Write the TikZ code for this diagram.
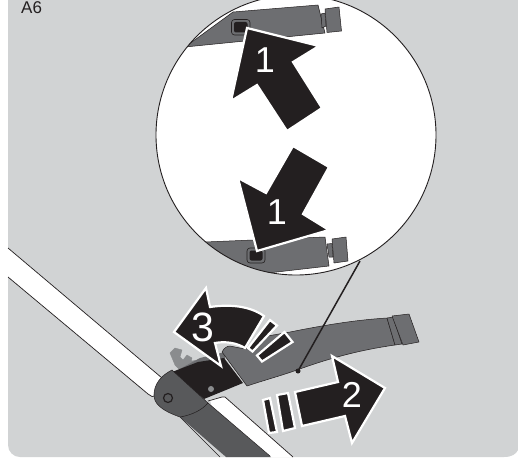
\documentclass[tikz,border=0pt]{standalone}
\usepackage{fontspec}
\setmainfont{Liberation Sans}
\definecolor{bg}{HTML}{D1D3D4}
\definecolor{ink}{HTML}{231F20}
\definecolor{midg}{HTML}{6D6E71}
\definecolor{darkg}{HTML}{58595B}
\definecolor{lightg}{HTML}{8A8C8E}
\tikzset{
 part/.style={fill=midg,draw=ink,line width=0.5pt,line join=round},
 bigarrow/.style={fill=ink,draw=white,line width=2.2pt,miter limit=10},
 num/.style={text=white,font=\fontsize{36}{36}\selectfont,inner sep=0pt},
 numbig/.style={text=white,font=\fontsize{41}{41}\selectfont,inner sep=0pt},
 tube/.style={draw=ink,line width=0.7pt},
 holeouter/.style={fill=midg,draw=ink,line width=0.6pt,rounded corners=3pt},
 holeinner/.style={fill=ink,rounded corners=2pt}
}
\begin{document}
\begin{tikzpicture}[x=1pt,y=-1pt]
\useasboundingbox (0,0) rectangle (518,460);
\fill[white] (0,0) rectangle (518,460);
% background panel
\fill[bg] (8,0) -- (518,0) -- (518,450) .. controls (516,454) and (512,457) .. (504,457) -- (20,457) arc[start angle=90,end angle=180,radius=12] -- cycle;
\node[text=ink,font=\fontsize{17}{17}\selectfont,inner sep=0pt,anchor=base west] (a6) at (21,13.5) {A6};
% frame tube upper
\fill[white] (8,248) -- (162,378) -- (152,397) -- (8,277) -- cycle;
\draw[tube] (8,248) -- (162,378);
\draw[tube] (8,277) -- (148,394) -- (152,396.5) -- (155,396);
% frame tube lower
\fill[white] (210,400) -- (222,397) -- (225,397) -- (293,457) -- (225,457) -- cycle;
\draw[tube] (208,401) -- (222,397) -- (225,397) -- (293,457);
\fill[darkg] (180,417) -- (208,403) -- (271,457) -- (226,457) -- cycle;
\draw[ink,line width=0.5pt] (180,417) -- (220,457);
\draw[ink,line width=0.5pt] (208,403) -- (270,456);
% hook
\path[fill=lightg,draw=lightg,line width=0.4pt,line join=round] (170,353) -- (175,348) -- (182,350) -- (180,357) -- (183,360) -- (187,355) -- (192,358) -- (191,361) -- (200,360) -- (208,360) -- (182,372) -- (175,365) -- cycle;
% black lever
\fill[midg] (176,371) -- (200,358) -- (225,352) -- (225,360) -- (190,375) -- cycle;
\fill[ink] (172,372) -- (198,362) -- (224,358) -- (243,383) -- (204,399) -- cycle;
\fill[lightg] (211,389) circle[radius=3];
% strap
\path[part] (222,352) .. controls (224,348) and (227,346) .. (230,346) -- (240,348) -- (246,349) -- (262,337) -- (290,332) .. controls (325,325) and (355,320) .. (387,318) -- (395,345) .. controls (360,350) and (330,358) .. (297,370) .. controls (280,376) and (265,380) .. (247,386) -- cycle;
\path[part] (387,318) -- (393,317) -- (402,344) -- (395,345) -- cycle;
\path[part] (392,316) -- (409,314) -- (419,342) -- (403,345) -- cycle;
% pivot
\path[fill=darkg,draw=ink,line width=0.5pt] (172,370) .. controls (160,376) and (154,385) .. (154,395) .. controls (154,403) and (160,410) .. (180,417) .. controls (192,415) and (202,410) .. (208,403) -- cycle;
\draw[ink,line width=1.2pt] (168,398) circle[radius=4.5];
% leader
\coordinate (lead) at (360,261);
\coordinate (anch) at (298,371);
\draw[ink,line width=1.5pt] (lead) -- (anch);
\fill[ink] (anch) circle[radius=2.5];
% circle
\fill[white] (296,135) circle[radius=140];
\begin{scope}
\clip (296,135) circle[radius=140];
\path[part] (185,47) -- (233,12) -- (318,5) -- (325,33) -- cycle;
\path[part] (205,242) -- (253,240) -- (325,237) -- (329,266) -- (268,273) -- (200,275) -- cycle;
\end{scope}
% top strap end
\path[part] (321,14) -- (325,13) -- (326,26) -- (322,28) -- cycle;
\path[part] (325,9) -- (339,7) -- (341.5,31) -- (327,32.5) -- cycle;
\draw[holeouter] (231.5,19.5) rectangle (250,35);
\fill[holeinner] (234,22) rectangle (247.5,32.5);
% bottom strap end
\path[part] (327,244) -- (332,243.5) -- (333,257) -- (329,257) -- cycle;
\path[part] (332,239) -- (346,237) -- (348,261) -- (334,263) -- cycle;
\draw[holeouter] (247,248) rectangle (265,263);
\fill[holeinner] (249.5,250.5) rectangle (262.5,260.5);
\draw[ink,line width=0.9pt] (296,135) circle[radius=140];
% arrows 1
\path[bigarrow] (247,28) -- (319,46) -- (293,62) -- (322,108) -- (287,131) -- (257,85) -- (231,101) -- cycle;
\node[num] (n1a) at (265,60) {1};
\path[bigarrow] (257,251) -- (238,178) -- (266,193) -- (293,146) -- (329,167) -- (303,214) -- (329,230) -- cycle;
\node[num] (n1b) at (277,212) {1};
% arrow 2
\path[bigarrow] (385,388) -- (332,356) -- (338,382) -- (295,392) -- (302,426) -- (345,416) -- (352,443) -- cycle;
\path[bigarrow] (277,395) -- (288,393) -- (295,428) -- (283,431) -- cycle;
\path[bigarrow] (263,400) -- (270,398) -- (277,432) -- (269,433) -- cycle;
\node[num] (n2) at (352,395) {2};
% arrow 3
\path[bigarrow] (174,332) -- (206,288) -- (210,307) .. controls (230,304) and (250,306) .. (264,316) -- (245,348) .. controls (237,343) and (226,341) .. (215,343) -- (221,366) -- cycle;
\path[bigarrow] (270,320) -- (277,325.5) -- (252.5,351.5) -- (248,348) -- cycle;
\path[bigarrow] (284.5,332) -- (292.5,342) -- (262,361.5) -- (257,355.5) -- cycle;
\node[numbig] (n3) at (203,327) {3};
\end{tikzpicture}
\end{document}
